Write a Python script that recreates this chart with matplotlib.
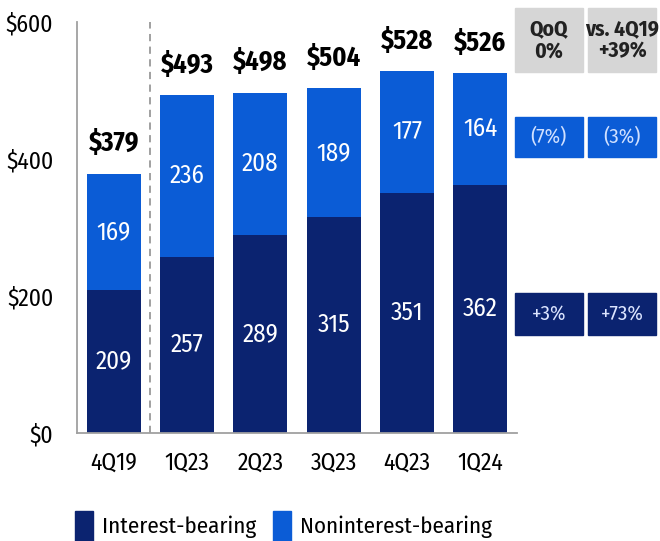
import matplotlib.pyplot as plt
from matplotlib.patches import Rectangle, Patch
from matplotlib import font_manager

quarters = ["4Q19", "1Q23", "2Q23", "3Q23", "4Q23", "1Q24"]
interest = [209, 257, 289, 315, 351, 362]
noninterest = [169, 236, 208, 189, 177, 164]
totals = [379, 493, 498, 504, 528, 526]
yticks = [0, 200, 400, 600]

header_txt = ["QoQ\n0%", "vs. 4Q19\n+39%"]
nonint_chg = ["(7%)", "(3%)"]
int_chg = ["+3%", "+73%"]

dark = "#0b2370"
light = "#0b5cd6"
grey_box = "#d6d6d6"

names = {f.name for f in font_manager.fontManager.ttflist}
fam = "DejaVu Sans"
for cand in ["Fira Sans Condensed", "IBM Plex Sans Condensed",
             "Encode Sans Condensed", "Open Sans Condensed"]:
    if cand in names:
        fam = cand
        break
plt.rcParams["font.family"] = [fam, "DejaVu Sans"]

fig = plt.figure(figsize=(6.6, 5.41), dpi=100)
ax = fig.add_axes([77 / 660, 1 - 433 / 541, 1 - 77 / 660, (433 - 22) / 541])

x = list(range(len(quarters)))
w = 0.74
ax.bar(x, interest, w, color=dark)
ax.bar(x, noninterest, w, bottom=interest, color=light)

for i in x:
    ax.text(i, interest[i] / 2, str(interest[i]), ha="center", va="center",
            color="white", fontsize=18)
    ax.text(i, interest[i] + noninterest[i] / 2, str(noninterest[i]),
            ha="center", va="center", color="white", fontsize=18)
    ax.text(i, totals[i] + 32, f"${totals[i]}", ha="center", va="baseline",
            color="black", fontsize=19, fontweight="bold")

ax.axvline(0.5, ymin=0, ymax=1, color="#999999", ls=(0, (4, 3)), lw=1.3)

ax.set_xlim(-0.5, 7.45)
ax.set_ylim(0, 600)
ax.set_xticks(x)
ax.set_xticklabels(quarters, fontsize=17)
ax.set_yticks(yticks)
ax.set_yticklabels([f"${v}" for v in yticks], fontsize=17)
ax.tick_params(axis="x", length=0, pad=13)
ax.tick_params(axis="y", length=0, pad=17)
for s in ["top", "right"]:
    ax.spines[s].set_visible(False)
ax.spines["left"].set_color("#a0a0a0")
ax.spines["bottom"].set_color("#a0a0a0")
ax.spines["bottom"].set_bounds(-0.5, 5.5)
ax.spines["left"].set_linewidth(1.3)
ax.spines["bottom"].set_linewidth(1.3)

# comparison boxes on the right
box_x = [5.47, 6.47]
box_w = 0.93
rows = [(527, 93, grey_box, header_txt, "#222222", "bold"),
        (403, 58, light, nonint_chg, "#d0e0ff", "normal"),
        (143, 61, dark, int_chg, "#dbe4ff", "normal")]
for y0, h, col, txts, tcol, fw in rows:
    for bx, t in zip(box_x, txts):
        ax.add_patch(Rectangle((bx, y0), box_w, h, color=col, clip_on=False))
        ax.text(bx + box_w / 2, y0 + h / 2, t, ha="center", va="center",
                color=tcol, fontsize=15.5 if fw == "bold" else 15,
                fontweight=fw, linespacing=1.05, clip_on=False)

handles = [Patch(color=dark, label="Interest-bearing"),
           Patch(color=light, label="Noninterest-bearing")]
fig.legend(handles=handles, loc="center left", bbox_to_anchor=(75 / 660, 0.028),
           ncol=2, frameon=False, fontsize=16.5, handlelength=0.8,
           handleheight=1.6, handletextpad=0.4, columnspacing=0.7,
           borderaxespad=0, borderpad=0)

fig.savefig("out.png", dpi=100)
